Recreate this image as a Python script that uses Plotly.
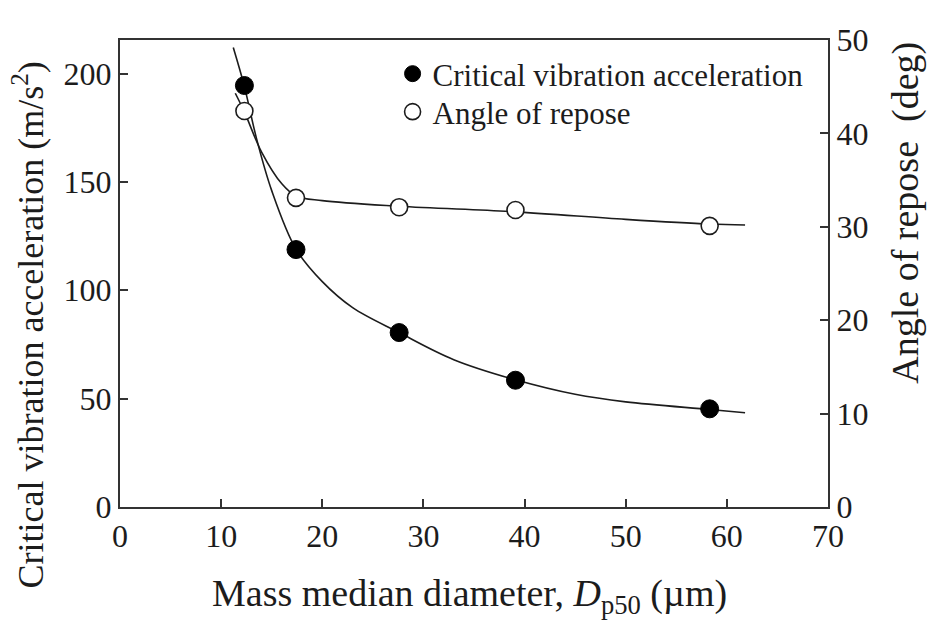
import plotly.graph_objects as go

# Measured points: mass median diameter (µm)
diameter = [12.3, 17.4, 27.6, 39.1, 58.3]
# Critical vibration acceleration (m/s^2), left axis
critical_acc = [194.5, 118.8, 80.5, 58.5, 45.3]
# Angle of repose (deg), right axis
angle_repose = [42.4, 33.1, 32.1, 31.8, 30.1]

# Smoothed trend lines
acc_curve_x = [11.2, 12.3, 13.5, 15.0, 17.4, 20.0, 23.0, 27.6, 33.0, 39.1, 45.0, 50.0, 58.3, 61.8]
acc_curve_y = [212, 194, 170, 146, 119, 104, 92, 80.5, 68, 58.7, 52, 48.5, 45, 43.5]
ang_curve_x = [11.4, 12.3, 14.0, 16.0, 17.4, 20.0, 27.6, 39.1, 50.0, 58.3, 61.8]
ang_curve_y = [44.3, 42.3, 38.0, 34.6, 33.3, 32.8, 32.2, 31.6, 30.8, 30.3, 30.2]

INK = "#1c1c1c"
FONT = "Liberation Serif"

fig = go.Figure()

fig.add_trace(go.Scatter(
    x=acc_curve_x, y=acc_curve_y, mode="lines", line=dict(color=INK, width=1.6, shape="spline"),
    showlegend=False, hoverinfo="skip"))
fig.add_trace(go.Scatter(
    x=ang_curve_x, y=ang_curve_y, mode="lines", yaxis="y2",
    line=dict(color=INK, width=1.6, shape="spline"), showlegend=False, hoverinfo="skip"))

fig.add_trace(go.Scatter(
    x=diameter, y=critical_acc, mode="markers", name="Critical vibration acceleration",
    legend="legend",
    marker=dict(symbol="circle", size=18, color="black", line=dict(color="black", width=1))))
fig.add_trace(go.Scatter(
    x=diameter, y=angle_repose, mode="markers", name="Angle of repose", yaxis="y2",
    legend="legend2",
    marker=dict(symbol="circle", size=17, color="white", line=dict(color=INK, width=1.6))))

axis_common = dict(
    showgrid=False, zeroline=False, showline=True, linecolor="#333", linewidth=2,
    ticks="inside", ticklen=8, tickwidth=1.5, tickcolor="#333",
    tickfont=dict(family=FONT, size=32, color=INK))

# Axis titles placed as annotations so each sits where it is drawn
titles = [
    dict(text="Mass median diameter, <i>D</i><sub>p50</sub> (µm)", x=0.494, y=-0.191,
         textangle=0, size=38),
    dict(text="Critical vibration acceleration (m/s<sup>2</sup>)", x=-0.129, y=0.39,
         textangle=-90, size=36),
    dict(text="Angle of repose\u00a0\u00a0(deg)", x=1.110, y=0.63,
         textangle=-90, size=38),
]
annotations = [
    dict(text=t["text"], x=t["x"], y=t["y"], xref="paper", yref="paper",
         xanchor="center", yanchor="middle", textangle=t["textangle"], showarrow=False,
         font=dict(family=FONT, size=t["size"], color=INK))
    for t in titles
]

legend_style = dict(xanchor="left", yanchor="top", bgcolor="rgba(0,0,0,0)",
                    font=dict(family=FONT, size=31, color=INK), itemsizing="trace")

fig.update_layout(
    width=929, height=621,
    margin=dict(l=120, r=101, t=40, b=114, autoexpand=False),
    paper_bgcolor="white", plot_bgcolor="white",
    font=dict(family=FONT, color=INK),
    xaxis=dict(range=[0, 70], dtick=10, mirror=True, **axis_common),
    yaxis=dict(range=[0, 215.5], tickvals=[0, 50, 100, 150, 200], **axis_common),
    yaxis2=dict(range=[0, 50], dtick=10, overlaying="y", side="right", **axis_common),
    legend=dict(x=0.385, y=0.985, **legend_style),
    legend2=dict(x=0.385, y=0.985 - 0.0814, **legend_style),
    annotations=annotations,
)

fig.write_html("out.html")
